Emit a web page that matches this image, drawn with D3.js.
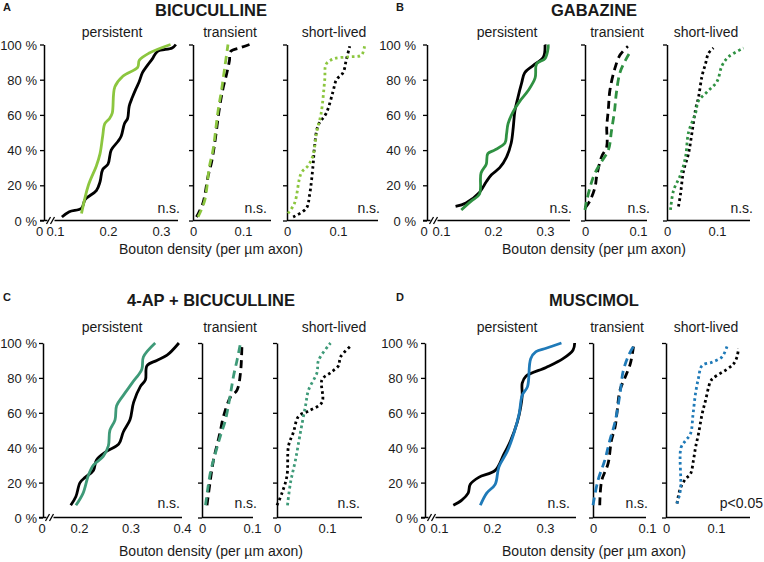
<!DOCTYPE html>
<html><head><meta charset="utf-8">
<script src="https://cdn.jsdelivr.net/npm/d3@7"></script>
<style>body{margin:0;background:#fff}svg text{font-family:Arial,"Liberation Sans",sans-serif;fill:#1a1a1a}</style>
</head><body><svg id="chart" width="764" height="562"></svg>
<script>
// ---------------- DATA ----------------
const panelLetters = ["A", "B", "C", "D"];
const panelTitles = ["BICUCULLINE", "GABAZINE", "4-AP + BICUCULLINE", "MUSCIMOL"];
const subplotNames = ["persistent", "transient", "short-lived"];
const yTickValues = [0, 20, 40, 60, 80, 100];
const persistentXTicks = [[0.1, 0.2, 0.3], [0.1, 0.2, 0.3], [0.2, 0.3, 0.4], [0.1, 0.2, 0.3]];
const smallXTicks = [0, 0.1];
const statLabels = [["n.s.", "n.s.", "n.s."], ["n.s.", "n.s.", "n.s."], ["n.s.", "n.s.", "n.s."], ["n.s.", "n.s.", "p<0.05"]];
const xAxisTitle = "Bouton density (per µm axon)";

// cumulative curves: [bouton density, cumulative %]
const A_persistent_control = [[0.113,2],[0.127,5],[0.15,7],[0.157,12],[0.178,17],[0.185,22],[0.19,29],[0.2,32],[0.206,40],[0.219,45],[0.225,48],[0.231,55],[0.237,58],[0.24,65],[0.246,70],[0.253,75],[0.259,79],[0.265,84],[0.274,88],[0.284,92],[0.293,96],[0.321,98],[0.328,100]];
const A_persistent_drug = [[0.15,4],[0.163,20],[0.178,31],[0.185,38],[0.19,48],[0.194,55],[0.203,58],[0.208,61],[0.213,76],[0.228,82],[0.256,87],[0.259,91],[0.277,95],[0.318,100]];
const A_transient_control = [[0.007,2],[0.02,10],[0.03,25],[0.037,33],[0.043,43],[0.053,64],[0.06,75],[0.067,83],[0.073,91],[0.075,96],[0.093,98],[0.113,100]];
const A_transient_drug = [[0.01,2],[0.023,11],[0.033,31],[0.04,40],[0.05,62],[0.057,74],[0.063,86],[0.07,100]];
const A_short_control = [[0.012,2],[0.038,7],[0.044,14],[0.051,31],[0.054,42],[0.061,54],[0.077,61],[0.09,73],[0.097,80],[0.11,84],[0.116,91],[0.123,99]];
const A_short_drug = [[0.002,4],[0.015,10],[0.028,27],[0.041,31],[0.051,37],[0.058,50],[0.067,61],[0.074,80],[0.077,89],[0.093,92],[0.123,93],[0.146,94],[0.152,99]];

const B_persistent_control = [[0.128,8],[0.148,10],[0.174,16],[0.187,22],[0.197,26],[0.213,30],[0.226,36],[0.235,44],[0.239,53],[0.242,62],[0.248,70],[0.255,78],[0.261,84],[0.277,88],[0.297,93],[0.3,100]];
const B_persistent_drug = [[0.139,6],[0.158,11],[0.174,15],[0.177,27],[0.187,32],[0.19,38],[0.203,40],[0.223,44],[0.226,49],[0.229,55],[0.239,62],[0.252,68],[0.268,74],[0.281,81],[0.284,89],[0.3,92],[0.306,98],[0.306,100]];
const B_transient_control = [[0,7],[0.009,11],[0.019,19],[0.022,25],[0.031,36],[0.041,42],[0.041,53],[0.044,63],[0.047,74],[0.056,86],[0.066,94],[0.081,99]];
const B_transient_drug = [[0,6],[0.003,11],[0.016,25],[0.028,32],[0.044,40],[0.05,51],[0.056,63],[0.059,72],[0.066,84],[0.078,92],[0.088,97]];
const B_short_control = [[0.023,8],[0.027,15],[0.033,28],[0.043,38],[0.05,50],[0.057,63],[0.063,70],[0.07,82],[0.077,89],[0.083,95],[0.093,98]];
const B_short_drug = [[0.007,6],[0.013,17],[0.027,26],[0.037,36],[0.043,50],[0.057,61],[0.063,68],[0.08,73],[0.1,79],[0.11,88],[0.123,93],[0.153,98]];

const C_persistent_control = [[0.184,7],[0.194,12],[0.202,20],[0.212,23],[0.228,27],[0.234,33],[0.254,38],[0.277,42],[0.286,49],[0.299,56],[0.306,66],[0.319,75],[0.329,79],[0.332,87],[0.351,90],[0.371,93],[0.394,100]];
const C_persistent_drug = [[0.194,7],[0.208,14],[0.218,24],[0.228,30],[0.247,35],[0.257,41],[0.26,50],[0.27,56],[0.273,64],[0.286,70],[0.303,77],[0.322,85],[0.325,92],[0.348,100]];
const C_transient_control = [[0.01,7],[0.017,22],[0.023,33],[0.033,45],[0.037,50],[0.043,58],[0.057,69],[0.07,73],[0.077,83],[0.08,100]];
const C_transient_drug = [[0.007,7],[0.017,26],[0.027,37],[0.037,47],[0.047,56],[0.057,71],[0.063,81],[0.07,90],[0.077,100]];
const C_short_control = [[0,7],[0.01,14],[0.02,24],[0.023,41],[0.033,49],[0.043,58],[0.063,61],[0.09,66],[0.09,79],[0.107,83],[0.123,87],[0.127,92],[0.15,99]];
const C_short_drug = [[0.021,7],[0.027,20],[0.037,33],[0.047,49],[0.057,64],[0.063,73],[0.08,83],[0.083,90],[0.107,100]];

const D_persistent_control = [[0.127,7],[0.143,10],[0.155,14],[0.159,19],[0.175,23],[0.206,27],[0.222,36],[0.235,44],[0.248,55],[0.254,63],[0.257,70],[0.257,77],[0.264,81],[0.302,86],[0.334,91],[0.353,96],[0.356,100]];
const D_persistent_drug = [[0.178,7],[0.19,14],[0.206,19],[0.213,29],[0.229,38],[0.241,48],[0.251,59],[0.257,70],[0.267,75],[0.273,91],[0.283,95],[0.302,97],[0.331,100]];
const D_transient_control = [[0.0125,7],[0.016,21],[0.028,31],[0.034,44],[0.041,52],[0.044,59],[0.05,73],[0.059,80],[0.069,88],[0.075,98]];
const D_transient_drug = [[0,7],[0.009,21],[0.022,33],[0.031,44],[0.041,55],[0.05,71],[0.056,84],[0.066,93],[0.075,98]];
const D_short_control = [[0.022,8],[0.029,17],[0.039,22],[0.049,25],[0.055,33],[0.059,40],[0.065,48],[0.072,59],[0.079,67],[0.089,78],[0.095,80],[0.122,85],[0.135,88],[0.142,92],[0.145,97]];
const D_short_drug = [[0.022,8],[0.029,16],[0.03,40],[0.039,44],[0.049,48],[0.054,59],[0.059,71],[0.065,80],[0.072,87],[0.092,89],[0.112,92],[0.122,98]];

const seriesByPanel = [
  [[A_persistent_control, A_persistent_drug], [A_transient_control, A_transient_drug], [A_short_control, A_short_drug]],
  [[B_persistent_control, B_persistent_drug], [B_transient_control, B_transient_drug], [B_short_control, B_short_drug]],
  [[C_persistent_control, C_persistent_drug], [C_transient_control, C_transient_drug], [C_short_control, C_short_drug]],
  [[D_persistent_control, D_persistent_drug], [D_transient_control, D_transient_drug], [D_short_control, D_short_drug]]
];

// ---------------- STYLE / LAYOUT ----------------
const drugColors = ["#8cc63f", "#2f9142", "#3e9a78", "#1f7ab8"];
const controlColor = "#000";
const dashBySubplot = [null, "8,5", "2.6,3"];
const FONT = 13;
const rowY = [{top: 44.5, bottom: 220.5, title: 16, sub: 37, tick: 236, axisTitle: 254, stat: 213},
              {top: 343, bottom: 517.5, title: 306, sub: 332, tick: 533, axisTitle: 556, stat: 508}];
const panelLayout = [
  {row: 0, letterX: 3, titleX: 211, axisTitleX: 211, yLabelEnd: 37, zeroX: 39.5, subs: [
    {l: 44, r: 178, dom: [0.1, 0.3], rng: [55, 161], subX: 112, statX: 180},
    {l: 193, r: 271, dom: [0, 0.1], rng: [193, 243], subX: 230, statX: 267},
    {l: 287, r: 378, dom: [0, 0.1], rng: [287, 338], subX: 334, statX: 380}]},
  {row: 0, letterX: 396, titleX: 594, axisTitleX: 594, yLabelEnd: 416, zeroX: 424, subs: [
    {l: 427, r: 570, dom: [0.1, 0.3], rng: [441, 545], subX: 507, statX: 572},
    {l: 585, r: 647, dom: [0, 0.1], rng: [585, 638], subX: 617, statX: 650},
    {l: 667, r: 750, dom: [0, 0.1], rng: [667, 717], subX: 706, statX: 753}]},
  {row: 1, letterX: 3, titleX: 211, axisTitleX: 211, yLabelEnd: 37, zeroX: 42, subs: [
    {l: 43, r: 182, dom: [0.2, 0.4], rng: [79, 182], subX: 112, statX: 180},
    {l: 202, r: 253, dom: [0, 0.1], rng: [202, 252], subX: 230, statX: 257},
    {l: 277, r: 362, dom: [0, 0.1], rng: [277, 327], subX: 334, statX: 360}]},
  {row: 1, letterX: 396, titleX: 594, axisTitleX: 594, yLabelEnd: 418, zeroX: 422, subs: [
    {l: 425, r: 576, dom: [0.1, 0.3], rng: [439, 545], subX: 507, statX: 570},
    {l: 593, r: 646, dom: [0, 0.1], rng: [593, 647], subX: 617, statX: 648},
    {l: 666, r: 750, dom: [0, 0.1], rng: [666, 716], subX: 706, statX: 763}]}
];

// ---------------- DRAW ----------------
const svg = d3.select("#chart");
svg.append("rect").attr("width", 764).attr("height", 562).attr("fill", "#fff");

function styleTickText(sel, dy) {
  sel.selectAll("text").attr("y", dy).attr("dy", null).attr("font-size", FONT)
    .attr("font-family", null).style("font-family", "Arial, 'Liberation Sans', sans-serif").attr("fill", "#1a1a1a");
}

panelLayout.forEach((P, pi) => {
  const R = rowY[P.row];
  const g = svg.append("g");
  g.append("text").attr("x", P.letterX).attr("y", R.title - 5).attr("font-size", 11).attr("font-weight", "bold").text(panelLetters[pi]);
  g.append("text").attr("x", P.titleX).attr("y", R.title).attr("text-anchor", "middle").attr("font-size", 16.5).attr("font-weight", "bold").text(panelTitles[pi]);
  g.append("text").attr("x", P.axisTitleX).attr("y", R.axisTitle).attr("text-anchor", "middle").attr("font-size", 14).text(xAxisTitle);

  const y = d3.scaleLinear().domain([0, 100]).range([R.bottom, R.top]);

  P.subs.forEach((S, si) => {
    const x = d3.scaleLinear().domain(S.dom).range(S.rng);
    const sg = g.append("g");
    // y axis
    const yAx = sg.append("g").attr("transform", `translate(${S.l},0)`)
      .call(d3.axisLeft(y).tickValues(yTickValues).tickSize(4).tickSizeOuter(0).tickFormat(""));
    yAx.select(".domain").attr("stroke", "#000").attr("stroke-width", 1.5);
    yAx.selectAll(".tick line").attr("stroke", "#000").attr("stroke-width", 1.3);
    if (si === 0) {
      yTickValues.forEach(v => {
        sg.append("text").attr("x", P.yLabelEnd).attr("y", y(v) + 5).attr("text-anchor", "end").attr("font-size", FONT).text(v + " %");
      });
    }
    // x axis line
    const base = R.bottom;
    if (si === 0) {
      sg.append("line").attr("x1", S.l - 4).attr("x2", S.l + 3.5).attr("y1", base).attr("y2", base).attr("stroke", "#000").attr("stroke-width", 1.5);
      sg.append("line").attr("x1", S.l + 10.5).attr("x2", S.r).attr("y1", base).attr("y2", base).attr("stroke", "#000").attr("stroke-width", 1.5);
      [S.l + 4.5, S.l + 8.5].forEach(bx => {
        sg.append("line").attr("x1", bx - 2).attr("x2", bx + 2).attr("y1", base + 3.5).attr("y2", base - 3.5).attr("stroke", "#000").attr("stroke-width", 1.3);
      });
      sg.append("text").attr("x", P.zeroX).attr("y", R.tick).attr("text-anchor", "middle").attr("font-size", FONT).text("0");
      const xAx = sg.append("g").attr("transform", `translate(0,${base})`)
        .call(d3.axisBottom(x).tickValues(persistentXTicks[pi]).tickSize(0).tickPadding(0).tickFormat(d3.format(".1f")));
      xAx.select(".domain").remove();
      styleTickText(xAx, R.tick - base);
    } else {
      sg.append("line").attr("x1", S.l).attr("x2", S.r).attr("y1", base).attr("y2", base).attr("stroke", "#000").attr("stroke-width", 1.5);
      const xAx = sg.append("g").attr("transform", `translate(0,${base})`)
        .call(d3.axisBottom(x).tickValues(smallXTicks).tickSize(0).tickFormat(d => d === 0 ? "0" : d3.format(".1f")(d)));
      xAx.select(".domain").remove();
      styleTickText(xAx, R.tick - base);
    }
    // subtitle & stat
    sg.append("text").attr("x", S.subX).attr("y", R.sub).attr("text-anchor", "middle").attr("font-size", 14).text(subplotNames[si]);
    sg.append("text").attr("x", S.statX).attr("y", R.stat).attr("text-anchor", "end").attr("font-size", 14).text(statLabels[pi][si]);
    // curves
    const line = d3.line().x(d => x(d[0])).y(d => y(d[1])).curve(d3.curveCatmullRom.alpha(0.5));
    const [ctrl, drug] = seriesByPanel[pi][si];
    [[ctrl, controlColor], [drug, drugColors[pi]]].forEach(([data, col]) => {
      sg.append("path").datum(data).attr("d", line).attr("fill", "none").attr("stroke", col)
        .attr("stroke-width", 2.8).attr("stroke-dasharray", dashBySubplot[si]).attr("stroke-linejoin", "round");
    });
  });
});
</script></body></html>
